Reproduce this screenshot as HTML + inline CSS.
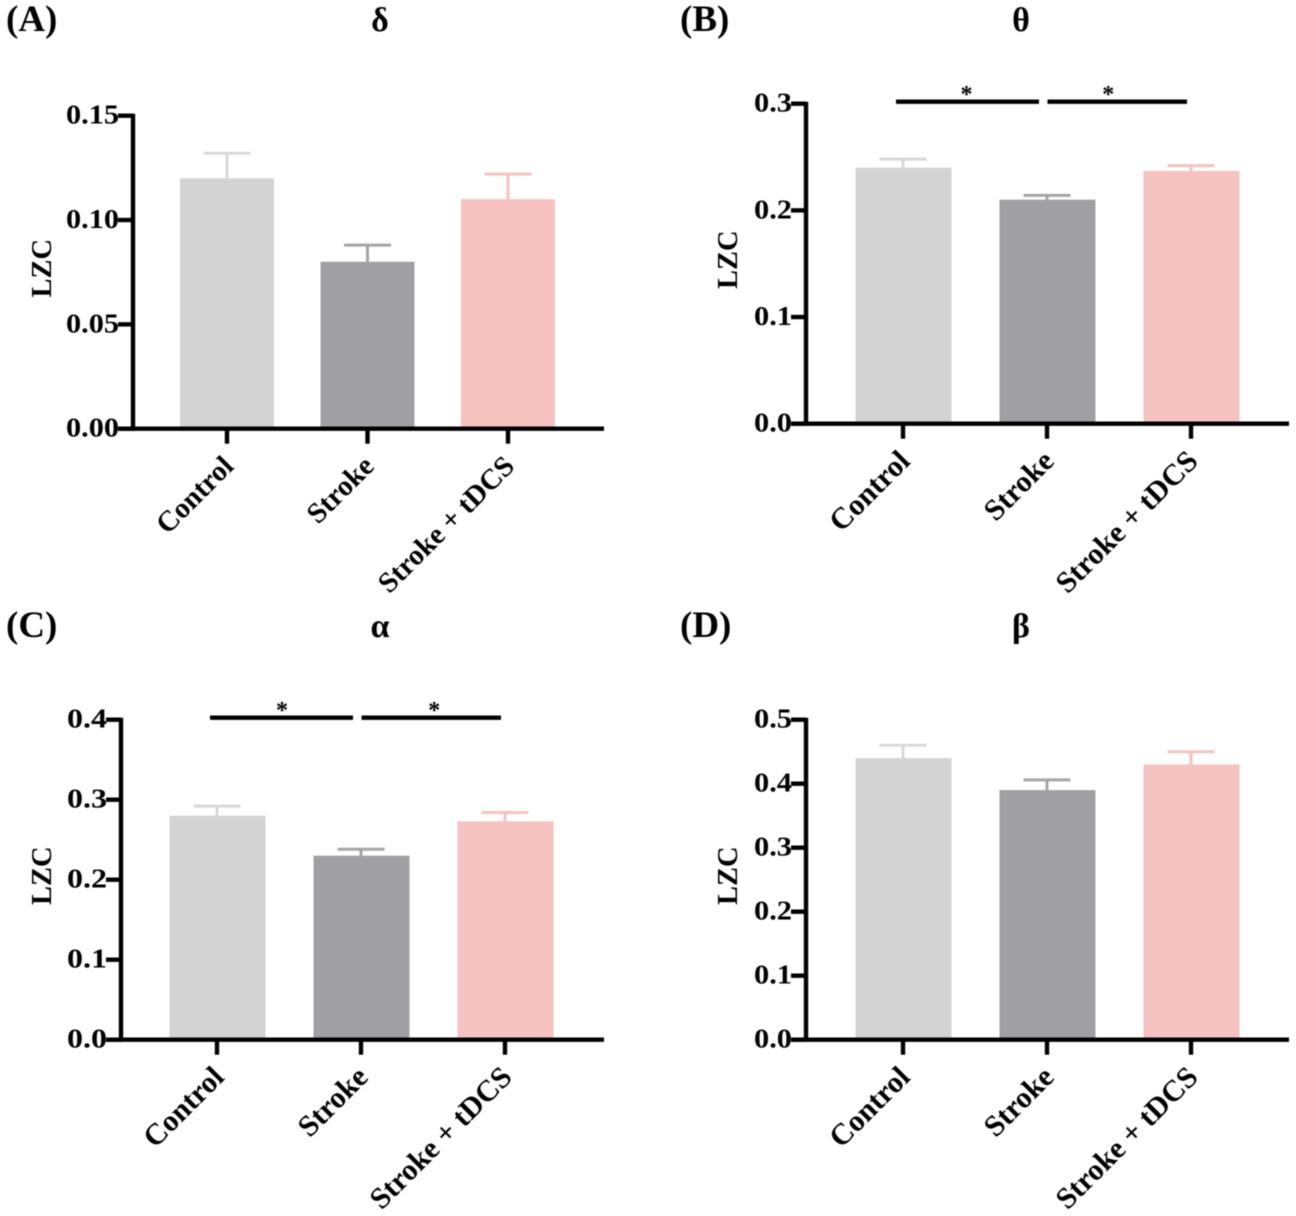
<!DOCTYPE html>
<html>
<head>
<meta charset="utf-8">
<title>LZC by frequency band</title>
<style>
html,body{margin:0;padding:0;background:#fff;}
svg{display:block;filter:blur(0.6px);}
text{font-family:"Liberation Serif",serif;font-weight:bold;fill:#000;}
</style>
</head>
<body>
<svg id="figure" xmlns="http://www.w3.org/2000/svg" width="1296" height="1216" viewBox="0 0 1296 1216"></svg>
<script>
const categories = ["Control", "Stroke", "Stroke + tDCS"];
const deltaMeans = [0.12, 0.08, 0.11];
const deltaTops = [0.132, 0.088, 0.122];
const deltaTicks = ["0.00", "0.05", "0.10", "0.15"];
const thetaMeans = [0.24, 0.21, 0.237];
const thetaTops = [0.248, 0.214, 0.242];
const thetaTicks = ["0.0", "0.1", "0.2", "0.3"];
const alphaMeans = [0.28, 0.23, 0.273];
const alphaTops = [0.292, 0.238, 0.284];
const alphaTicks = ["0.0", "0.1", "0.2", "0.3", "0.4"];
const betaMeans = [0.44, 0.39, 0.43];
const betaTops = [0.46, 0.406, 0.45];
const betaTicks = ["0.0", "0.1", "0.2", "0.3", "0.4", "0.5"];

const barColors = ["#d3d3d3", "#a09fa3", "#f6c2c0"];
const capColors = ["#d8d8d8", "#a5a4a8", "#f6c2c0"];
const svg = document.getElementById("figure");
const NS = "http://www.w3.org/2000/svg";

function make(tag, attrs, parent, text) {
  const el = document.createElementNS(NS, tag);
  for (const k in attrs) el.setAttribute(k, attrs[k]);
  if (text !== undefined) el.textContent = text;
  parent.appendChild(el);
  return el;
}

function drawPanel(p) {
  const g = make("g", {}, svg);
  
  

  const yMax = parseFloat(p.ticks[p.ticks.length - 1]);
  const yScale = v => p.y0 - (v / yMax) * (p.y0 - p.yTop);
  const xScale = i => p.x0 + i * p.step;

  const letter = make("text", {x: p.labelX, y: p.titleY + 11, "font-size": 37}, g, "(" + p.id.toUpperCase() + ")");
  
  

  const title = make("text", {x: p.titleX, y: p.titleY + 11, "font-size": 34, "text-anchor": "middle"}, g, p.title);
  
  

  const yTitle = make("text", {
    x: 0, y: 0, "font-size": 28.5, "text-anchor": "middle",
    transform: "translate(" + p.yTitleX + "," + ((p.y0 + p.yTop) / 2 - 4) + ") rotate(-90)"
  }, g, "LZC");
  
  

  p.means.forEach((m, i) => {
    const cx = xScale(i);
    const bar = make("rect", {x: cx + p.barDx - p.barW / 2, y: yScale(m), width: p.barW, height: p.y0 - yScale(m), fill: barColors[i]}, g);
    
    

    const stem = make("line", {x1: cx, x2: cx, y1: yScale(m), y2: yScale(p.tops[i]), stroke: capColors[i], "stroke-width": 3}, g);
    
    

    const cap = make("line", {x1: cx - 23.5, x2: cx + 23.5, y1: yScale(p.tops[i]), y2: yScale(p.tops[i]), stroke: capColors[i], "stroke-width": 3}, g);
    
    
  });

  const yAxis = make("line", {x1: p.axisX, x2: p.axisX, y1: p.yTop - 2, y2: p.y0 + 2, stroke: "#000", "stroke-width": 4.4}, g);
  
  

  const xAxis = make("line", {x1: p.axisX - 15, x2: p.axisEnd, y1: p.y0, y2: p.y0, stroke: "#000", "stroke-width": 4.4}, g);
  
  

  p.ticks.forEach(t => {
    const y = yScale(parseFloat(t));
    const tick = make("line", {x1: p.axisX - 15, x2: p.axisX, y1: y, y2: y, stroke: "#000", "stroke-width": 4.4}, g);
    
    

    const label = make("text", {x: p.axisX - 14, y: y + 8, "font-size": 27, "text-anchor": "end", textLength: p.tickLen, lengthAdjust: "spacingAndGlyphs"}, g, t);
    
    
  });

  categories.forEach((c, i) => {
    const cx = xScale(i);
    const tick = make("line", {x1: cx, x2: cx, y1: p.y0, y2: p.y0 + 15, stroke: "#000", "stroke-width": 4.4}, g);
    
    

    const label = make("text", {
      x: 0, y: 0, "font-size": p.catSize, "text-anchor": "end",
      transform: "translate(" + (cx + p.catDx) + "," + (p.y0 + 39) + ") rotate(-45)"
    }, g, c);
    
    
  });

  if (p.starDx) {
    const y = p.yTop - 2;
    const spans = [[xScale(0) - 7, xScale(1) - 8], [xScale(1) + 0.5, xScale(2) - 4]];
    spans.forEach((s, k) => {
      const line = make("line", {x1: s[0], x2: s[1], y1: y, y2: y, stroke: "#000", "stroke-width": 4.4}, g);
      
      

      const star = make("text", {x: (s[0] + s[1]) / 2 + p.starDx[k], y: y + 0.5, "font-size": 24, "text-anchor": "middle"}, g, "*");
      
      
    });
  }
}

drawPanel({id: "a", title: "δ", labelX: 6, titleX: 380, titleY: 20, yTitleX: 51, catSize: 28.8, catDx: 8, axisX: 133, axisEnd: 604, y0: 428.7, yTop: 115.7, x0: 227, step: 140.5, barW: 94, barDx: 0, tickLen: 53, means: deltaMeans, tops: deltaTops, ticks: deltaTicks, starDx: null});
drawPanel({id: "b", title: "θ", labelX: 680, titleX: 1021, titleY: 20, yTitleX: 737, catSize: 30, catDx: 8.5, axisX: 806, axisEnd: 1289, y0: 423.7, yTop: 103.7, x0: 903, step: 144, barW: 96, barDx: 0.5, tickLen: 38, means: thetaMeans, tops: thetaTops, ticks: thetaTicks, starDx: [-1, -9]});
drawPanel({id: "c", title: "α", labelX: 6, titleX: 380, titleY: 626, yTitleX: 51, catSize: 30, catDx: 8.5, axisX: 121, axisEnd: 604, y0: 1039.7, yTop: 719.7, x0: 217, step: 144, barW: 96, barDx: 0.5, tickLen: 40, means: alphaMeans, tops: alphaTops, ticks: alphaTicks, starDx: [0.5, 3]});
drawPanel({id: "d", title: "β", labelX: 680, titleX: 1021, titleY: 626, yTitleX: 737, catSize: 30, catDx: 8.5, axisX: 806, axisEnd: 1289, y0: 1039.7, yTop: 719.7, x0: 903, step: 144, barW: 96, barDx: 0.5, tickLen: 38, means: betaMeans, tops: betaTops, ticks: betaTicks, starDx: null});
</script>
</body>
</html>
